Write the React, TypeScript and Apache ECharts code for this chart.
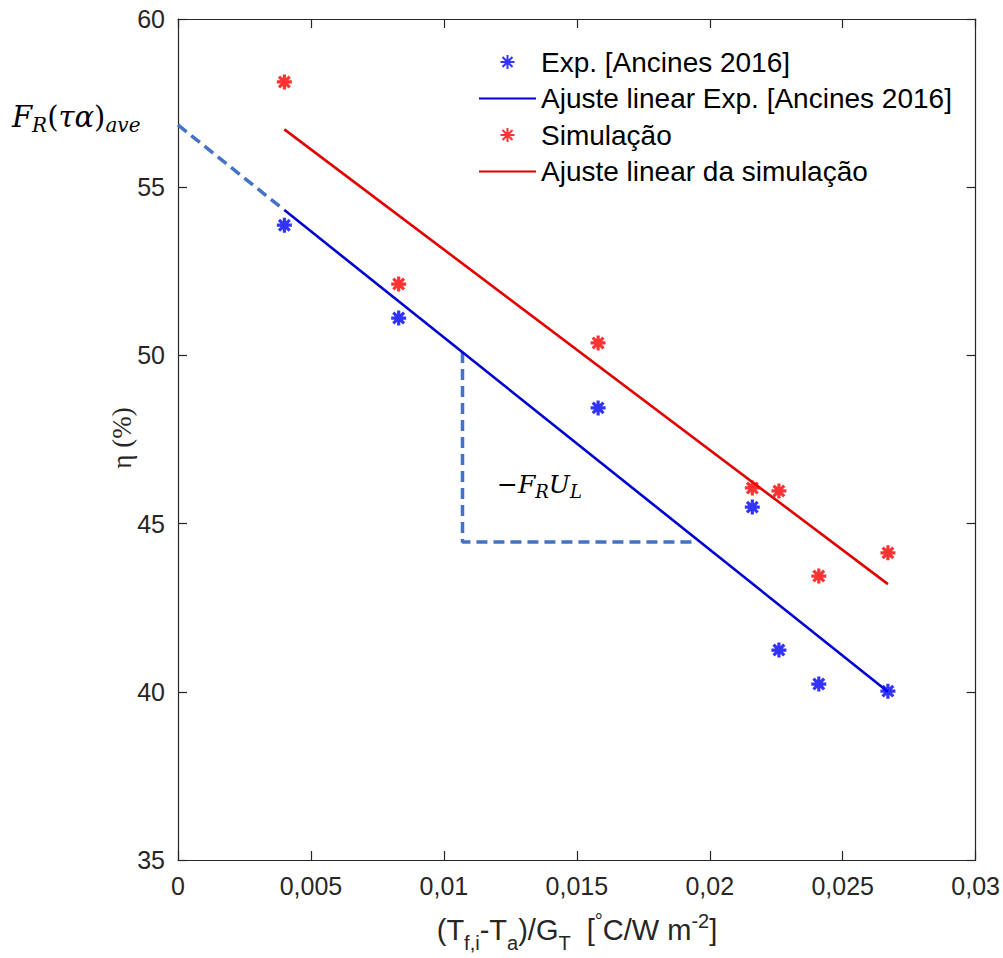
import React, { useEffect, useRef } from "react";
import * as echarts from "echarts";

// x values (°C/W m^-2)
const xVals = [0.004, 0.0083, 0.0158, 0.0216, 0.0226, 0.0241, 0.0267];
// Experimental efficiency (%)
const expY = [53.87, 51.11, 48.44, 45.49, 41.24, 40.23, 40.02];
// Simulation efficiency (%)
const simY = [58.13, 52.12, 50.37, 46.06, 45.97, 43.44, 44.13];
// Linear fits (end points)
const fitX = [0.004, 0.0267];
const expFitY = [54.32, 40.0];
const simFitY = [56.72, 43.2];
// Dashed annotation: extension to x = 0
const extX = [0, 0.004];
const extY = [56.85, 54.32];
// Dashed annotation: slope triangle
const triX = [0.0107, 0.0107, 0.0194];
const triY = [50.1, 44.45, 44.45];

const xTicks = { min: 0, max: 0.03, interval: 0.005 };
const yTicks = { min: 35, max: 60, interval: 5 };

const legendNames = [
  "Exp. [Ancines 2016]",
  "Ajuste linear Exp. [Ancines 2016]",
  "Simulação",
  "Ajuste linear da simulação",
];

const STAR = "path://M0 7 L14 7 M7 0 L7 14 M2 2 L12 12 M2 12 L12 2";
const AX = "#262626";
const SANS = "'Liberation Sans', Arial, sans-serif";
const SERIF = "'Liberation Serif', 'Times New Roman', serif";
const MATH = "'DejaVu Serif', serif";
const DASH = "#4472C4";

const pairs = (xs: number[], ys: number[]) => xs.map((x, i) => [x, ys[i]]);

type Piece = { t: string; size: number; dy?: number; italic?: boolean; family?: string };

let measureCtx: CanvasRenderingContext2D | null = null;
function textWidth(p: Piece, family: string) {
  if (!measureCtx) measureCtx = document.createElement("canvas").getContext("2d");
  if (!measureCtx) return p.t.length * p.size * 0.5;
  measureCtx.font = `${p.italic ? "italic " : ""}${p.size}px ${family}`;
  return measureCtx.measureText(p.t).width;
}

// Lay out text pieces in a row (sub/superscripts), anchored on a baseline
function flow(pieces: Piece[], anchorX: number, baseline: number, anchor: "left" | "center", family: string, color: string) {
  const widths = pieces.map((p) => textWidth(p, p.family || family));
  const total = widths.reduce((a, b) => a + b, 0);
  let x = anchor === "center" ? anchorX - total / 2 : anchorX;
  return pieces.map((p, i) => {
    const el = {
      type: "text",
      x,
      y: baseline + (p.dy || 0) - 0.35 * p.size,
      silent: true,
      style: {
        text: p.t,
        fontSize: p.size,
        fontFamily: p.family || family,
        fontStyle: p.italic ? "italic" : "normal",
        fill: color,
        align: "left",
        verticalAlign: "middle",
      },
    };
    x += widths[i];
    return el;
  });
}

export default function App() {
  const ref = useRef<HTMLDivElement>(null);
  useEffect(() => {
    if (!ref.current) return;
    const chart = echarts.init(ref.current, undefined, { renderer: "svg" });
    const baseAxis = {
      type: "value",
      axisLine: { show: true, onZero: false, lineStyle: { color: AX, width: 1.2 } },
      axisTick: { show: true, inside: true, length: 9, lineStyle: { color: AX, width: 1.2 } },
      splitLine: { show: false },
    };
    const fmt = (v: number) => String(+v.toFixed(4)).replace(".", ",");

    const M = 29;
    const S = 20;
    const xTitle: Piece[] = [
      { t: "(T", size: M },
      { t: "f,i", size: S, dy: 10 },
      { t: "-T", size: M },
      { t: "a", size: S, dy: 10 },
      { t: ")/G", size: M },
      { t: "T", size: S, dy: 10 },
      { t: "  [", size: M },
      { t: "°", size: S, dy: -12 },
      { t: "C/W m", size: M },
      { t: "-2", size: S, dy: -12 },
      { t: "]", size: M },
    ];
    const frLabel: Piece[] = [
      { t: "F", size: 29, italic: true },
      { t: "R", size: 20, italic: true, dy: 5 },
      { t: "(", size: 29 },
      { t: "τα", size: 29, italic: true },
      { t: ")", size: 29 },
      { t: "ave", size: 20, italic: true, dy: 5 },
    ];
    const fuLabel: Piece[] = [
      { t: "−", size: 25 },
      { t: "F", size: 25, italic: true },
      { t: "R", size: 18, italic: true, dy: 5 },
      { t: "U", size: 25, italic: true },
      { t: "L", size: 18, italic: true, dy: 5 },
    ];

    const lineLegend = (name: string) => ({ name, itemStyle: { opacity: 0 } });

    chart.setOption({
      animation: false,
      backgroundColor: "#fff",
      grid: { left: 178, top: 19, width: 800, height: 841, containLabel: false },
      xAxis: [
        {
          ...baseAxis,
          position: "bottom",
          ...xTicks,
          axisLabel: { show: true, formatter: fmt, fontSize: 25, color: AX, fontFamily: SANS, margin: 13 },
        },
        { ...baseAxis, position: "top", ...xTicks, axisLabel: { show: false } },
      ],
      yAxis: [
        {
          ...baseAxis,
          position: "left",
          ...yTicks,
          axisLabel: { show: true, fontSize: 25, color: AX, fontFamily: SANS, margin: 13 },
        },
        { ...baseAxis, position: "right", ...yTicks, axisLabel: { show: false } },
      ],
      legend: {
        data: [legendNames[0], lineLegend(legendNames[1]), legendNames[2], lineLegend(legendNames[3])],
        orient: "vertical",
        left: 473,
        top: 42,
        itemWidth: 57,
        itemHeight: 14,
        itemGap: 6.5,
        textStyle: { fontSize: 28, lineHeight: 30, color: "#000", fontFamily: SANS },
        backgroundColor: "transparent",
      },
      series: [
        {
          name: "dashExt",
          type: "line",
          data: pairs(extX, extY),
          symbol: "none",
          lineStyle: { color: DASH, width: 3.5, type: [11, 6] },
          z: 1,
        },
        {
          name: "dashTri",
          type: "line",
          data: pairs(triX, triY),
          symbol: "none",
          lineStyle: { color: DASH, width: 3.5, type: [11, 6] },
          z: 1,
        },
        {
          name: legendNames[1],
          type: "line",
          data: pairs(fitX, expFitY),
          symbol: "none",
          itemStyle: { color: "#0000d0" },
          lineStyle: { color: "#0000d0", width: 2.6 },
          z: 2,
        },
        {
          name: legendNames[3],
          type: "line",
          data: pairs(fitX, simFitY),
          symbol: "none",
          itemStyle: { color: "#e00000" },
          lineStyle: { color: "#e00000", width: 2.6 },
          z: 2,
        },
        {
          name: legendNames[0],
          type: "scatter",
          data: pairs(xVals, expY),
          symbol: STAR,
          symbolSize: 15,
          itemStyle: { color: "#0000ff", borderColor: "#0000ff", borderWidth: 3.2 },
          z: 3,
        },
        {
          name: legendNames[2],
          type: "scatter",
          data: pairs(xVals, simY),
          symbol: STAR,
          symbolSize: 15,
          itemStyle: { color: "#ff0000", borderColor: "#ff0000", borderWidth: 3.2 },
          z: 3,
        },
      ],
      graphic: [
        ...flow(frLabel, 12, 127, "left", MATH, "#000"),
        ...flow(fuLabel, 497, 493, "left", MATH, "#000"),
        {
          type: "text",
          x: 122,
          y: 438,
          rotation: Math.PI / 2,
          silent: true,
          style: {
            text: "η (%)",
            fontSize: 27,
            fontFamily: SERIF,
            fill: AX,
            align: "center",
            verticalAlign: "middle",
          },
        },
        ...flow(xTitle, 577, 940, "center", SANS, AX),
      ],
    });
    return () => chart.dispose();
  }, []);
  return (
    <div
      ref={ref}
      style={{ position: "absolute", left: 0, top: 0, width: 1003, height: 958, background: "#fff" }}
    />
  );
}
